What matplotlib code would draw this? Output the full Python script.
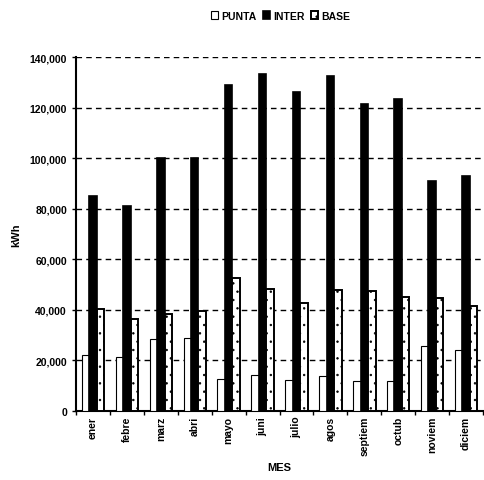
import numpy as np
import matplotlib.pyplot as plt
from matplotlib.ticker import FuncFormatter

plt.rcParams['font.family'] = ['Liberation Sans', 'DejaVu Sans']
plt.rcParams['hatch.linewidth'] = 0.5

meses = ['ener', 'febre', 'marz', 'abri', 'mayo', 'juni',
         'julio', 'agos', 'septiem', 'octub', 'noviem', 'diciem']

# consumo mensual por periodo tarifario (kWh)
punta = [22000, 21200, 28500, 28900, 12600, 14200,
         12400, 14000, 11700, 11700, 25600, 24200]
inter = [85000, 81000, 100000, 100000, 128900, 133300,
         126000, 132500, 121600, 123300, 90900, 92900]
base = [40500, 36400, 38300, 39600, 52500, 48200,
        42700, 48000, 47300, 45000, 44500, 41600]

fig = plt.figure(figsize=(4.84, 4.81), dpi=100)
ax = fig.add_axes([0.157, 0.1435, 0.841, 0.7359])

x = np.arange(len(meses))
w = 0.22
ax.bar(x - w, punta, w, color='white', edgecolor='black', linewidth=0.8,
       label='PUNTA', zorder=3)
ax.bar(x, inter, w, color='black', edgecolor='black', linewidth=1.2,
       label='INTER', zorder=3)
ax.bar(x + w, base, w, color='white', edgecolor='black', linewidth=1.4,
       hatch='..', label='BASE', zorder=3)

ax.set_xlim(-0.5, len(meses) - 0.5)
ax.set_ylim(0, 140000)
ax.set_yticks(np.arange(0, 140001, 20000))
ax.yaxis.set_major_formatter(FuncFormatter(lambda v, p: f'{int(v):,}'))
ax.yaxis.grid(True, linestyle=(0, (4, 3)), color='black', linewidth=1.0, zorder=0)

ax.set_xticks(x)
ax.set_xticklabels(meses, rotation=90, fontsize=7.5, fontweight='bold')
ax.set_xticks(np.arange(-0.5, len(meses)), minor=True)
ax.tick_params(axis='x', which='major', length=0)
ax.tick_params(axis='x', which='minor', length=3, width=1, direction='out')
ax.tick_params(axis='y', length=3, width=1, labelsize=7.5)
for t in ax.get_yticklabels():
    t.set_fontweight('bold')

for s in ['top', 'right']:
    ax.spines[s].set_visible(False)
ax.spines['left'].set_linewidth(1.5)
ax.spines['bottom'].set_linewidth(1.5)

ax.set_ylabel('kWh', fontsize=8, fontweight='bold', labelpad=6)
ax.set_xlabel('MES', fontsize=8, fontweight='bold', labelpad=5)

fig.legend(loc='upper center', bbox_to_anchor=(0.58, 0.995), ncol=3,
           frameon=False, handlelength=0.7, handleheight=0.7,
           handletextpad=0.3, columnspacing=0.6,
           prop={'weight': 'bold', 'size': 7.5})

fig.savefig('out.png', dpi=100)
